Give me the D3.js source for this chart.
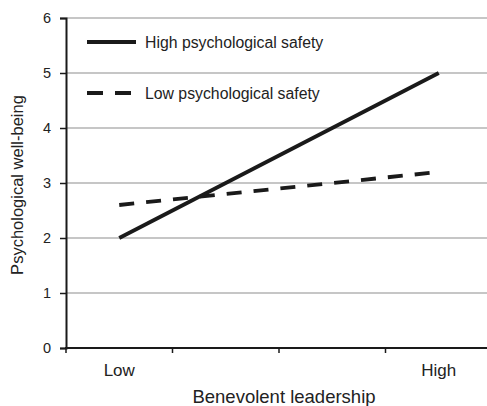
<!DOCTYPE html>
<html>
<head>
<meta charset="utf-8">
<script src="https://cdn.jsdelivr.net/npm/d3@7"></script>
<style>
  body { margin: 0; background: #fff; }
  svg { display: block; font-family: "Liberation Sans", Arial, sans-serif; }
</style>
</head>
<body>
<div id="chart"></div>
<script>
// categories on the x axis (only first and last are labelled)
var categories = ["c1", "c2", "c3", "c4"];
var categoryLabels = { c1: "Low", c2: "", c3: "", c4: "High" };
var yTicks = [0, 1, 2, 3, 4, 5, 6];

var seriesNames = ["High psychological safety", "Low psychological safety"];
var highSafety = [{ cat: "c1", value: 2.0 }, { cat: "c4", value: 5.0 }];
var lowSafety = [{ cat: "c1", value: 2.6 }, { cat: "c4", value: 3.2 }];

var margin = { top: 18, right: -5, bottom: 58, left: 66 };
var width = 487 - margin.left - margin.right;
var height = 406 - margin.top - margin.bottom;

var svg = d3.select("#chart").append("svg")
    .attr("width", 487)
    .attr("height", 406);

var g = svg.append("g")
    .attr("transform", "translate(" + margin.left + "," + margin.top + ")");

var x = d3.scaleBand().domain(categories).range([0, width]).padding(0);
var y = d3.scaleLinear().domain([0, 6]).range([height, 0]);

// gridlines
g.selectAll(".grid").data(yTicks.filter(function (d) { return d > 0; }))
    .enter().append("line")
    .attr("class", "grid")
    .attr("x1", 0).attr("x2", width)
    .attr("y1", function (d) { return y(d); })
    .attr("y2", function (d) { return y(d); })
    .attr("stroke", "#b3b3b3")
    .attr("stroke-width", 1.3);

// y axis
var yAxis = g.append("g")
    .call(d3.axisLeft(y).tickValues(yTicks).tickSize(6).tickPadding(9).tickFormat(d3.format("d")));
yAxis.select(".domain").attr("stroke", "#1a1a1a").attr("stroke-width", 2);
yAxis.selectAll(".tick line").attr("stroke", "#1a1a1a").attr("stroke-width", 1.5);
yAxis.selectAll("text").attr("font-size", 14.5).attr("fill", "#222")
    .attr("font-family", "Liberation Sans, Arial, sans-serif");

// x axis: ticks at band boundaries, labels at band centres
var xAxisG = g.append("g").attr("transform", "translate(0," + height + ")");
xAxisG.append("line")
    .attr("x1", -1).attr("x2", width)
    .attr("stroke", "#1a1a1a").attr("stroke-width", 2);
xAxisG.selectAll(".xtick").data(categories)
    .enter().append("line")
    .attr("x1", function (d) { return x(d); })
    .attr("x2", function (d) { return x(d); })
    .attr("y1", 0).attr("y2", 5)
    .attr("stroke", "#1a1a1a").attr("stroke-width", 1.5);
xAxisG.selectAll(".xlabel").data(categories)
    .enter().append("text")
    .attr("x", function (d) { return x(d) + x.bandwidth() / 2; })
    .attr("y", 28)
    .attr("text-anchor", "middle")
    .attr("font-size", 17)
    .attr("fill", "#222")
    .text(function (d) { return categoryLabels[d]; });

// axis titles
svg.append("text")
    .attr("x", margin.left + x("c2") + x.bandwidth() + 5)
    .attr("y", 403)
    .attr("text-anchor", "middle")
    .attr("font-size", 18.5)
    .attr("fill", "#222")
    .text("Benevolent leadership");

svg.append("text")
    .attr("transform", "translate(23,185) rotate(-90)")
    .attr("text-anchor", "middle")
    .attr("font-size", 16.5)
    .attr("fill", "#222")
    .text("Psychological well-being");

// lines
var line = d3.line()
    .x(function (d) { return x(d.cat) + x.bandwidth() / 2; })
    .y(function (d) { return y(d.value); });

g.append("path").datum(lowSafety)
    .attr("d", line)
    .attr("fill", "none")
    .attr("stroke", "#1a1a1a")
    .attr("stroke-width", 3.8)
    .attr("stroke-dasharray", "15,12");

g.append("path").datum(highSafety)
    .attr("d", line)
    .attr("fill", "none")
    .attr("stroke", "#1a1a1a")
    .attr("stroke-width", 3.8);

// legend
var legend = svg.append("g").attr("transform", "translate(87,42)");
var legendItems = legend.selectAll(".item").data(seriesNames)
    .enter().append("g")
    .attr("transform", function (d, i) { return "translate(0," + (i * 51) + ")"; });
legendItems.append("line")
    .attr("x1", 0).attr("x2", 49)
    .attr("stroke", "#1a1a1a")
    .attr("stroke-width", 3.8)
    .attr("stroke-dasharray", function (d, i) { return i === 1 ? "16,12" : null; });
legendItems.append("text")
    .attr("x", 58).attr("y", 5.5)
    .attr("font-size", 15.8)
    .attr("fill", "#222")
    .text(function (d) { return d; });
</script>
</body>
</html>
